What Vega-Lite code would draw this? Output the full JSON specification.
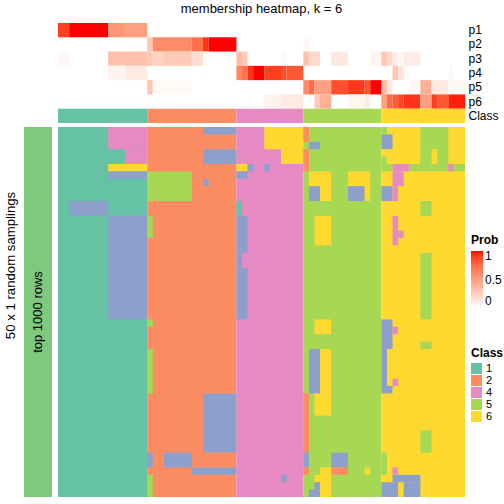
{
  "$schema": "https://vega.github.io/schema/vega-lite/v6.json",
  "padding": {"left": 3, "top": 3, "right": 0, "bottom": 0},
  "background": "white",
  "config": {"view": {"stroke": null}, "font": "Liberation Sans", "legend": {"labelFont": "Liberation Sans", "titleFont": "Liberation Sans"}},
  "columns": 2,
  "align": "each",
  "spacing": {"row": 3, "column": 6},
  "resolve": {"scale": {"x": "independent", "y": "independent"}},
  "concat": [
    {
      "width": 28, "height": 100,
      "data": {"values": [{"s": ""}]},
      "mark": {"type": "text"},
      "encoding": {"text": {"field": "s"}}
    },
    {
      "width": 407, "height": 100,
      "title": {"text": "membership heatmap, k = 6", "fontSize": 13, "fontWeight": "normal", "offset": 7, "color": "black"},
      "layer": [
        {
          "data": {"values": [
            {"p":"p1","c0":0,"c1":2,"v":0.9},{"p":"p1","c0":2,"c1":9,"v":1},{"p":"p1","c0":9,"c1":12,"v":0.55},{"p":"p1","c0":12,"c1":16,"v":0.5},
            {"p":"p2","c0":16,"c1":17,"v":0.3},{"p":"p2","c0":17,"c1":24,"v":0.6},{"p":"p2","c0":24,"c1":26,"v":0.72},{"p":"p2","c0":26,"c1":27,"v":0.93},{"p":"p2","c0":27,"c1":32,"v":1},{"p":"p2","c0":44,"c1":45,"v":0.04},
            {"p":"p3","c0":0,"c1":2,"v":0.04},{"p":"p3","c0":9,"c1":16,"v":0.33},{"p":"p3","c0":16,"c1":17,"v":0.3},{"p":"p3","c0":17,"c1":19,"v":0.24},{"p":"p3","c0":19,"c1":24,"v":0.28},{"p":"p3","c0":24,"c1":26,"v":0.17},{"p":"p3","c0":26,"c1":27,"v":0.02},{"p":"p3","c0":32,"c1":33,"v":0.35},{"p":"p3","c0":33,"c1":34,"v":0.27},{"p":"p3","c0":40,"c1":41,"v":0.03},{"p":"p3","c0":44,"c1":45,"v":0.33},{"p":"p3","c0":45,"c1":47,"v":0.2},{"p":"p3","c0":49,"c1":52,"v":0.12},{"p":"p3","c0":56,"c1":58,"v":0.05},{"p":"p3","c0":58,"c1":59,"v":0.3},{"p":"p3","c0":59,"c1":60,"v":0.2},{"p":"p3","c0":60,"c1":61,"v":0.1},{"p":"p3","c0":61,"c1":62,"v":0.04},{"p":"p3","c0":62,"c1":65,"v":0.1},
            {"p":"p4","c0":9,"c1":12,"v":0.06},{"p":"p4","c0":12,"c1":16,"v":0.11},{"p":"p4","c0":32,"c1":33,"v":0.62},{"p":"p4","c0":33,"c1":34,"v":0.72},{"p":"p4","c0":34,"c1":35,"v":0.93},{"p":"p4","c0":35,"c1":37,"v":1},{"p":"p4","c0":37,"c1":40,"v":0.9},{"p":"p4","c0":40,"c1":41,"v":0.85},{"p":"p4","c0":41,"c1":44,"v":0.82},{"p":"p4","c0":60,"c1":61,"v":0.3},{"p":"p4","c0":61,"c1":62,"v":0.15},{"p":"p4","c0":62,"c1":63,"v":0.04},{"p":"p4","c0":70,"c1":71,"v":0.03},
            {"p":"p5","c0":16,"c1":17,"v":0.3},{"p":"p5","c0":17,"c1":24,"v":0.04},{"p":"p5","c0":44,"c1":45,"v":0.6},{"p":"p5","c0":45,"c1":46,"v":0.75},{"p":"p5","c0":46,"c1":49,"v":0.5},{"p":"p5","c0":49,"c1":52,"v":0.85},{"p":"p5","c0":52,"c1":55,"v":0.92},{"p":"p5","c0":55,"c1":56,"v":0.85},{"p":"p5","c0":56,"c1":58,"v":1},{"p":"p5","c0":58,"c1":59,"v":0.35},{"p":"p5","c0":59,"c1":60,"v":0.12},{"p":"p5","c0":63,"c1":65,"v":0.04},{"p":"p5","c0":65,"c1":67,"v":0.42},{"p":"p5","c0":67,"c1":70,"v":0.12},{"p":"p5","c0":70,"c1":73,"v":0.04},
            {"p":"p6","c0":34,"c1":35,"v":0.02},{"p":"p6","c0":37,"c1":40,"v":0.07},{"p":"p6","c0":40,"c1":44,"v":0.11},{"p":"p6","c0":46,"c1":47,"v":0.28},{"p":"p6","c0":47,"c1":49,"v":0.42},{"p":"p6","c0":52,"c1":55,"v":0.05},{"p":"p6","c0":55,"c1":56,"v":0.1},{"p":"p6","c0":58,"c1":59,"v":0.5},{"p":"p6","c0":59,"c1":60,"v":0.75},{"p":"p6","c0":60,"c1":61,"v":0.8},{"p":"p6","c0":61,"c1":62,"v":0.88},{"p":"p6","c0":62,"c1":65,"v":0.93},{"p":"p6","c0":65,"c1":67,"v":0.5},{"p":"p6","c0":67,"c1":68,"v":0.9},{"p":"p6","c0":68,"c1":70,"v":0.82},{"p":"p6","c0":70,"c1":73,"v":0.97}
          ]},
          "mark": {"type": "rect"},
          "encoding": {
            "x": {"field": "c0", "type": "quantitative", "scale": {"domain": [0, 73], "nice": false, "zero": false}, "axis": null},
            "x2": {"field": "c1"},
            "y": {"field": "p", "type": "nominal", "scale": {"domain": ["p1","p2","p3","p4","p5","p6","Class"], "paddingInner": 0, "paddingOuter": 0},
                  "axis": {"orient": "right", "title": null, "ticks": false, "domain": false, "labelFontSize": 12, "labelPadding": 3, "labelColor": "black"}},
            "color": {"field": "v", "type": "quantitative", "scale": {"domain": [0, 1], "range": ["#FFFFFF", "#FF0000"], "interpolate": "lab"},
                      "legend": {"title": "Prob", "orient": "none", "legendX": 447, "legendY": 212, "direction": "vertical", "gradientLength": 57, "gradientThickness": 12, "values": [0, 0.5, 1], "format": ".1~f", "labelBaseline": "middle", "labelFontSize": 12, "titleFontSize": 12, "titleFontWeight": "bold", "labelColor": "black", "titleColor": "black", "titlePadding": 4}}
          }
        },
        {
          "data": {"values": [
            {"p":"Class","c0":0,"c1":16,"k":"1"},{"p":"Class","c0":16,"c1":32,"k":"2"},{"p":"Class","c0":32,"c1":44,"k":"4"},{"p":"Class","c0":44,"c1":58,"k":"5"},{"p":"Class","c0":58,"c1":73,"k":"6"}
          ]},
          "mark": {"type": "rect"},
          "encoding": {
            "x": {"field": "c0", "type": "quantitative"},
            "x2": {"field": "c1"},
            "y": {"field": "p", "type": "nominal"},
            "fill": {"field": "k", "type": "nominal",
                     "scale": {"domain": ["1","2","3","4","5","6"], "range": ["#66C2A5","#FC8D62","#8DA0CB","#E78AC3","#A6D854","#FFD92F"]},
                     "legend": {"title": "Class", "orient": "none", "legendX": 447, "legendY": 325, "values": ["1","2","4","5","6"], "symbolType": "square", "symbolSize": 121, "symbolStrokeWidth": 0, "rowPadding": 0, "labelFontSize": 11, "titleFontSize": 12, "titleFontWeight": "bold", "labelColor": "black", "titleColor": "black", "titlePadding": 3}}
          }
        }
      ]
    },
    {
      "width": 28, "height": 370,
      "data": {"values": [{"s": "top 1000 rows"}]},
      "layer": [
        {
          "mark": {"type": "rect", "fill": "#7FC97F"},
          "encoding": {
            "x": {"field": "s", "type": "nominal", "scale": {"paddingInner": 0, "paddingOuter": 0}, "axis": null},
            "y": {"field": "s", "type": "nominal", "scale": {"paddingInner": 0, "paddingOuter": 0},
                  "axis": {"orient": "left", "title": "50 x 1 random samplings", "labels": false, "ticks": false, "domain": false, "titleFontSize": 13.2, "titleFontWeight": "normal", "titlePadding": 7, "titleColor": "black", "titleY": 138}}
          }
        },
        {
          "mark": {"type": "text", "angle": 270, "fontSize": 13, "color": "black", "baseline": "middle", "align": "center"},
          "encoding": {
            "x": {"field": "s", "type": "nominal"},
            "y": {"field": "s", "type": "nominal"},
            "text": {"field": "s"}
          }
        }
      ]
    },
    {
      "width": 407, "height": 370,
      "data": {"values": [
        {"c0":0,"c1":16,"r0":0,"r1":50,"k":"1"},{"c0":16,"c1":32,"r0":0,"r1":50,"k":"2"},{"c0":32,"c1":44,"r0":0,"r1":50,"k":"4"},{"c0":44,"c1":58,"r0":0,"r1":50,"k":"5"},{"c0":58,"c1":73,"r0":0,"r1":50,"k":"6"},
        {"c0":9,"c1":16,"r0":0,"r1":3,"k":"4"},{"c0":12,"c1":16,"r0":3,"r1":5,"k":"4"},{"c0":9,"c1":16,"r0":5,"r1":6,"k":"6"},{"c0":9,"c1":16,"r0":6,"r1":7,"k":"3"},{"c0":2,"c1":9,"r0":10,"r1":12,"k":"3"},{"c0":9,"c1":16,"r0":12,"r1":26,"k":"3"},
        {"c0":26,"c1":32,"r0":0,"r1":1,"k":"3"},{"c0":26,"c1":32,"r0":3,"r1":5,"k":"3"},{"c0":16,"c1":24,"r0":6,"r1":10,"k":"5"},{"c0":26,"c1":27,"r0":7,"r1":8,"k":"3"},{"c0":16,"c1":17,"r0":12,"r1":15,"k":"5"},{"c0":16,"c1":17,"r0":26,"r1":27,"k":"5"},{"c0":16,"c1":17,"r0":30,"r1":36,"k":"5"},{"c0":26,"c1":32,"r0":36,"r1":44,"k":"3"},{"c0":16,"c1":17,"r0":44,"r1":46,"k":"3"},{"c0":19,"c1":24,"r0":44,"r1":46,"k":"3"},{"c0":24,"c1":32,"r0":46,"r1":47,"k":"3"},{"c0":16,"c1":17,"r0":47,"r1":50,"k":"5"},
        {"c0":37,"c1":44,"r0":0,"r1":3,"k":"6"},{"c0":40,"c1":44,"r0":3,"r1":5,"k":"6"},{"c0":32,"c1":34,"r0":5,"r1":6,"k":"6"},{"c0":34,"c1":35,"r0":5,"r1":6,"k":"3"},{"c0":37,"c1":38,"r0":5,"r1":6,"k":"3"},{"c0":32,"c1":34,"r0":6,"r1":7,"k":"3"},{"c0":32,"c1":33,"r0":10,"r1":12,"k":"1"},{"c0":32,"c1":34,"r0":12,"r1":17,"k":"3"},{"c0":32,"c1":33,"r0":17,"r1":19,"k":"3"},{"c0":32,"c1":34,"r0":19,"r1":26,"k":"3"},{"c0":40,"c1":41,"r0":47,"r1":48,"k":"3"},
        {"c0":44,"c1":45,"r0":0,"r1":2,"k":"2"},{"c0":44,"c1":45,"r0":3,"r1":6,"k":"2"},{"c0":45,"c1":47,"r0":2,"r1":3,"k":"3"},{"c0":45,"c1":49,"r0":6,"r1":8,"k":"6"},{"c0":45,"c1":47,"r0":8,"r1":10,"k":"3"},{"c0":47,"c1":49,"r0":8,"r1":10,"k":"6"},{"c0":46,"c1":49,"r0":12,"r1":16,"k":"6"},{"c0":52,"c1":56,"r0":6,"r1":8,"k":"6"},{"c0":52,"c1":55,"r0":8,"r1":10,"k":"3"},{"c0":55,"c1":56,"r0":8,"r1":10,"k":"6"},
        {"c0":46,"c1":49,"r0":26,"r1":28,"k":"6"},{"c0":45,"c1":47,"r0":30,"r1":36,"k":"3"},{"c0":47,"c1":49,"r0":30,"r1":36,"k":"6"},{"c0":46,"c1":49,"r0":36,"r1":39,"k":"6"},{"c0":44,"c1":45,"r0":36,"r1":44,"k":"2"},{"c0":44,"c1":45,"r0":44,"r1":46,"k":"3"},{"c0":44,"c1":45,"r0":46,"r1":47,"k":"2"},{"c0":49,"c1":52,"r0":44,"r1":46,"k":"3"},{"c0":49,"c1":52,"r0":46,"r1":47,"k":"2"},{"c0":47,"c1":49,"r0":46,"r1":47,"k":"6"},{"c0":55,"c1":56,"r0":46,"r1":47,"k":"6"},{"c0":46,"c1":49,"r0":47,"r1":48,"k":"6"},{"c0":46,"c1":47,"r0":48,"r1":49,"k":"3"},{"c0":47,"c1":49,"r0":48,"r1":49,"k":"6"},{"c0":45,"c1":47,"r0":49,"r1":50,"k":"3"},{"c0":47,"c1":49,"r0":49,"r1":50,"k":"6"},
        {"c0":58,"c1":59,"r0":0,"r1":1,"k":"5"},{"c0":65,"c1":70,"r0":0,"r1":5,"k":"5"},{"c0":67,"c1":68,"r0":3,"r1":5,"k":"6"},{"c0":58,"c1":60,"r0":1,"r1":3,"k":"3"},{"c0":58,"c1":59,"r0":4,"r1":5,"k":"5"},
        {"c0":58,"c1":60,"r0":5,"r1":6,"k":"5"},{"c0":60,"c1":63,"r0":5,"r1":6,"k":"4"},{"c0":63,"c1":70,"r0":5,"r1":6,"k":"5"},{"c0":70,"c1":71,"r0":5,"r1":6,"k":"4"},{"c0":71,"c1":73,"r0":5,"r1":6,"k":"5"},
        {"c0":60,"c1":62,"r0":6,"r1":8,"k":"4"},{"c0":58,"c1":60,"r0":8,"r1":10,"k":"3"},{"c0":60,"c1":61,"r0":8,"r1":10,"k":"4"},{"c0":65,"c1":67,"r0":10,"r1":12,"k":"5"},{"c0":60,"c1":61,"r0":12,"r1":16,"k":"4"},{"c0":61,"c1":62,"r0":14,"r1":15,"k":"4"},{"c0":65,"c1":67,"r0":17,"r1":26,"k":"5"},
        {"c0":58,"c1":60,"r0":26,"r1":30,"k":"3"},{"c0":60,"c1":61,"r0":27,"r1":28,"k":"4"},{"c0":58,"c1":59,"r0":30,"r1":35,"k":"3"},{"c0":58,"c1":60,"r0":35,"r1":36,"k":"3"},{"c0":60,"c1":61,"r0":34,"r1":35,"k":"4"},{"c0":65,"c1":67,"r0":29,"r1":30,"k":"5"},{"c0":65,"c1":67,"r0":41,"r1":44,"k":"5"},
        {"c0":58,"c1":59,"r0":44,"r1":47,"k":"5"},{"c0":60,"c1":61,"r0":46,"r1":47,"k":"4"},{"c0":60,"c1":65,"r0":47,"r1":48,"k":"3"},{"c0":58,"c1":61,"r0":48,"r1":50,"k":"3"},{"c0":62,"c1":65,"r0":48,"r1":50,"k":"3"}
      ]},
      "mark": {"type": "rect"},
      "encoding": {
        "x": {"field": "c0", "type": "quantitative", "scale": {"domain": [0, 73], "nice": false, "zero": false}, "axis": null},
        "x2": {"field": "c1"},
        "y": {"field": "r0", "type": "quantitative", "scale": {"domain": [0, 50], "nice": false, "zero": false, "reverse": true}, "axis": null},
        "y2": {"field": "r1"},
        "fill": {"field": "k", "type": "nominal"}
      }
    }
  ]
}
